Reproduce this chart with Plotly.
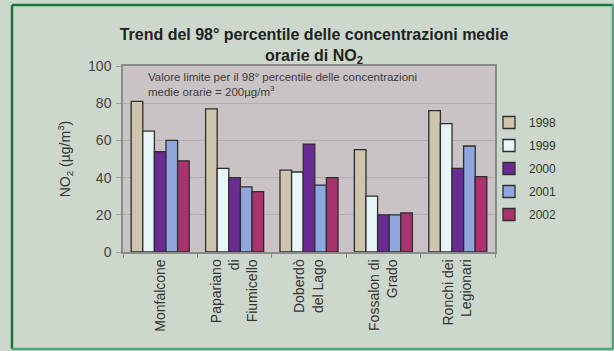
import plotly.graph_objects as go

# Monitoring stations (multi-line tick labels) and yearly NO2 98th percentile values
stations = [
    "Monfalcone",
    "Papariano<br>di<br>Fiumicello",
    "Doberdò<br>del Lago",
    "Fossalon di<br>Grado",
    "Ronchi dei<br>Legionari",
]
years = ["1998", "1999", "2000", "2001", "2002"]
values_1998 = [81, 77, 44, 55, 76]
values_1999 = [65, 45, 43, 30, 69]
values_2000 = [54, 40, 58, 20, 45]
values_2001 = [60, 35, 36, 20, 57]
values_2002 = [49, 32.5, 40, 21, 40.5]
series = [values_1998, values_1999, values_2000, values_2001, values_2002]
colors = ["#cdc6ac", "#e8f5f6", "#6a2b93", "#8fa7dc", "#a8336f"]

W, H = 614, 351
ML, MR, MT, MB = 123, 119, 66, 99
PW, PH = W - ML - MR, H - MT - MB


def px_x(p):
    return (p - ML) / PW


def px_y(p):
    return (H - MB - p) / PH


FONT = "Liberation Sans, Arial, sans-serif"

fig = go.Figure()
for yr, vals, col in zip(years, series, colors):
    fig.add_trace(go.Bar(
        x=stations, y=vals, name=yr,
        marker=dict(color=col, line=dict(color="#2e2e2e", width=1.3)),
        legendgroup=yr,
    ))

fig.update_layout(
    width=W, height=H,
    margin=dict(l=ML, r=MR, t=MT, b=MB),
    paper_bgcolor="#cdd8cd",
    plot_bgcolor="#c9c3c5",
    barmode="group",
    bargap=0.22,
    bargroupgap=0,
    font=dict(family=FONT, color="#333333"),
    title=dict(
        text="<b>Trend del 98° percentile delle concentrazioni medie<br>orarie di NO<sub>2</sub></b>",
        x=314 / W, xref="container", xanchor="center",
        y=1 - 40 / H, yref="container", yanchor="top",
        font=dict(size=16, color="#222222", family=FONT),
    ),
    showlegend=True,
    legend=dict(
        x=px_x(489), xanchor="left",
        y=px_y(108), yanchor="top",
        bgcolor="rgba(0,0,0,0)",
        font=dict(size=12, color="#333333"),
        traceorder="grouped",
        tracegroupgap=4,
        itemclick=False,
    ),
    xaxis=dict(
        tickangle=-90,
        tickfont=dict(size=14, color="#333333"),
        showline=True, linecolor="#8a8a8a", linewidth=1.5, mirror=True,
        ticks="outside", ticklen=4, tickcolor="#8a8a8a",
        tickson="boundaries",
        showgrid=False,
        fixedrange=True,
    ),
    yaxis=dict(
        range=[0, 100],
        tickvals=[0, 20, 40, 60, 80, 100],
        tickfont=dict(size=14, color="#444444"),
        showline=True, linecolor="#8a8a8a", linewidth=1.5, mirror=True,
        ticks="outside", ticklen=5, tickcolor="#9a9a9a",
        ticklabelstandoff=2,
        showgrid=True, gridcolor="#b2aeb0", gridwidth=1,
        zeroline=False,
        title=dict(text="NO<sub>2</sub> (µg/m<sup>3</sup>)",
                   font=dict(size=14, color="#333333"), standoff=14),
        fixedrange=True,
    ),
)

# Note about the legal limit, placed inside the plot area
fig.add_annotation(
    text="Valore limite per il 98° percentile delle concentrazioni<br>medie orarie = 200µg/m<sup>3</sup>",
    xref="paper", yref="paper",
    x=px_x(146), y=px_y(69), xanchor="left", yanchor="top",
    align="left", showarrow=False,
    font=dict(size=11.5, color="#3a3a3a", family=FONT),
)

# Green frame around the whole graphic
x0, x1, y0, y1 = px_x(12), px_x(613), px_y(5), px_y(349)
frame = [
    (x0, y0, x0, y1, "#17763f"),
    (x0, y0, x1, y0, "#17763f"),
    (x1, y0, x1, y1, "#4fa37b"),
    (x0, y1, x1, y1, "#4fa37b"),
]
for a, b, c, d, col in frame:
    fig.add_shape(type="line", xref="paper", yref="paper",
                  x0=a, y0=b, x1=c, y1=d, line=dict(color=col, width=2.5),
                  layer="above")

fig.write_html("out.html")
